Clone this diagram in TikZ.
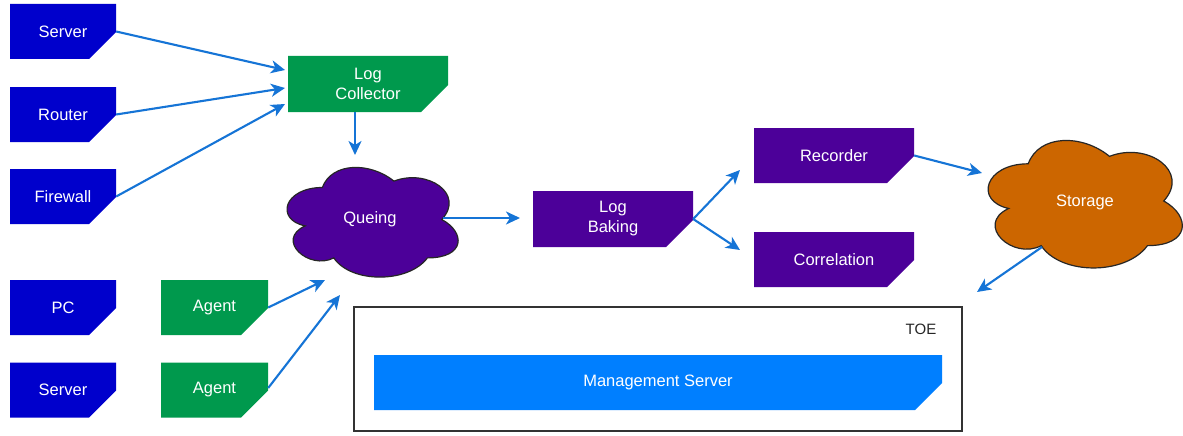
\documentclass[tikz,border=0pt]{standalone}
\usepackage{fontspec}
\setmainfont{Liberation Sans}
\usetikzlibrary{arrows.meta,calc}
\definecolor{boxblue}{HTML}{0000CC}
\definecolor{boxgreen}{HTML}{00994D}
\definecolor{boxpurple}{HTML}{4C0099}
\definecolor{boxorange}{HTML}{CC6600}
\definecolor{msblue}{HTML}{007FFF}
\definecolor{arrowblue}{RGB}{21,116,214}
\newcommand\drawioCloudPath{(0.25,0.25) .. controls (0.05,0.25) and (0,0.5) .. (0.16,0.55) .. controls (0,0.66) and (0.18,0.9) .. (0.31,0.8) .. controls (0.4,1) and (0.7,1) .. (0.8,0.8) .. controls (1,0.8) and (1,0.6) .. (0.875,0.5) .. controls (1,0.3) and (0.8,0.1) .. (0.625,0.2) .. controls (0.5,0.05) and (0.3,0.05) .. (0.25,0.25) -- cycle}
\tikzset{
  cutbox/.style={rectangle, draw=none, inner sep=0pt, text=white, align=center,
    font=\fontsize{16.5}{20}\selectfont,
    path picture={\fill[#1] (path picture bounding box.north west) -- (path picture bounding box.north east) -- ([yshift=27pt]path picture bounding box.south east) -- ([xshift=-27pt]path picture bounding box.south east) -- (path picture bounding box.south west) -- cycle;}},
  smallbox/.style={cutbox=#1, minimum width=106pt, minimum height=55pt},
  widebox/.style={cutbox=#1, minimum width=160pt, minimum height=56pt},
  cloudbody/.style={fill=#1, draw=black!85, line width=1.2pt},
  cloudtext/.style={text=white, font=\fontsize{16.5}{20}\selectfont, inner sep=0pt},
  flow/.style={draw=arrowblue, line width=2.1pt, -{Stealth[length=14pt,width=13pt,inset=4pt]}},
}
\begin{document}
\begin{tikzpicture}[x=1pt,y=-1pt]
\useasboundingbox[fill=white] (0,0) rectangle (1183,436);

% left sources
\node[smallbox=boxblue] (srv1) at (63,31.5) {Server};
\node[smallbox=boxblue] (rtr) at (63,114.5) {Router};
\node[smallbox=boxblue] (fw) at (63,196.5) {Firewall};
\node[smallbox=boxblue] (pc) at (63,307.5) {PC};
\node[smallbox=boxblue] (srv2) at (63,390) {Server};
\node[smallbox=boxgreen, minimum width=107pt] (ag1) at (214.5,307.5) {Agent};
\node[smallbox=boxgreen, minimum width=107pt] (ag2) at (214.5,390) {Agent};

% log collector
\node[widebox=boxgreen] (lc) at (368,84) {Log\\Collector};

% queing cloud
\begin{scope}[shift={(274.6,155.5)}, xscale=191, yscale=128]
\path[cloudbody=boxpurple] \drawioCloudPath;
\end{scope}
\node[cloudtext] (q) at (370,219) {Queing};

% log baking, recorder, correlation
\node[widebox=boxpurple] (lb) at (613,219) {Log\\Baking};
\node[widebox=boxpurple, minimum height=55pt] (rec) at (834,155.5) {Recorder};
\node[widebox=boxpurple, minimum height=55pt] (cor) at (834,259.5) {Correlation};

% storage cloud
\begin{scope}[shift={(974,126.6)}, xscale=216.8, yscale=148.8]
\path[cloudbody=boxorange] \drawioCloudPath;
\end{scope}
\node[cloudtext] (st) at (1085,202) {Storage};

% TOE container
\node[draw=black!80, line width=1.2pt, minimum width=608pt, minimum height=124pt, inner sep=0pt] (toe) at (658,369) {};
\node[font=\fontsize{15}{18}\selectfont, text=black!85, inner sep=0pt] (toelbl) at (921,329) {TOE};
\node[cutbox=msblue, minimum width=568pt, minimum height=55pt] (ms) at (658,382.5) {Management Server};

% connector end points
\coordinate (lcin1) at (285,70);
\coordinate (lcin2) at (285,88);
\coordinate (lcin3) at (285,104);
\coordinate (qtop) at (355,155);
\coordinate (qin1) at (325,280);
\coordinate (qin2) at (340,295);
\coordinate (qout) at (443,218);
\coordinate (lbin) at (520,218);
\coordinate (recin) at (740,170);
\coordinate (corin) at (740,250);
\coordinate (stin) at (982,173);
\coordinate (stout) at (1042,247);
\coordinate (toein) at (977,292);

% connectors
\draw[flow] (srv1.east) -- (lcin1);
\draw[flow] (rtr.east) -- (lcin2);
\draw[flow] (fw.east) -- (lcin3);
\draw[flow] ($(lc.south)+(-13,0)$) -- (qtop);
\draw[flow] (ag1.east) -- (qin1);
\draw[flow] ($(ag2.east)+(0,-2)$) -- (qin2);
\draw[flow] (qout) -- (lbin);
\draw[flow] (lb.east) -- (recin);
\draw[flow] (lb.east) -- (corin);
\draw[flow] (rec.east) -- (stin);
\draw[flow] (stout) -- (toein);
\end{tikzpicture}
\end{document}
